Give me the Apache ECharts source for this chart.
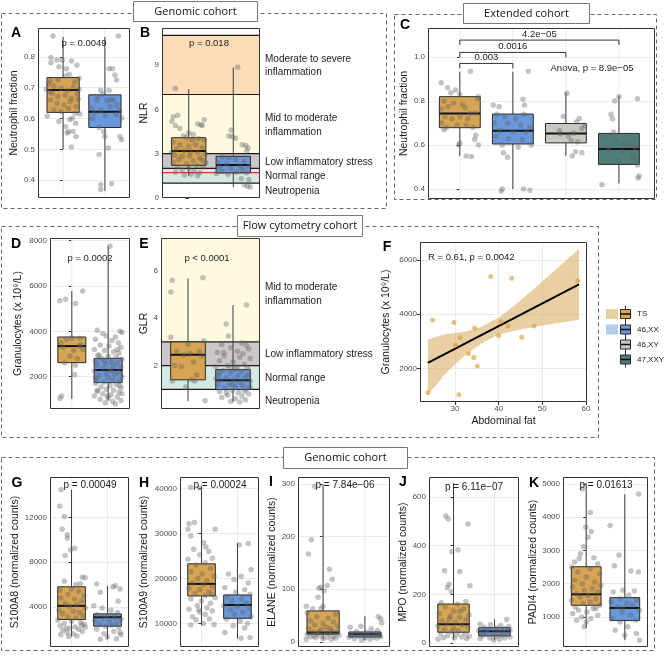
<!DOCTYPE html>
<html><head><meta charset="utf-8">
<script src="https://cdn.jsdelivr.net/npm/echarts@6/dist/echarts.min.js"></script>
<style>html,body{margin:0;padding:0;background:#fff}#c{width:667px;height:656px}</style>
</head><body><div id="c"></div>
<script>
// ================= DATA =================
const GROUPS = ['TS', '46,XX', '46,XY', '47,XXY'];

// Panel A: neutrophil fraction (genomic cohort)
const A_TICKS = [0.4, 0.5, 0.6, 0.7, 0.8];
const A_BOX_TS = [0.50, 0.62, 0.693, 0.733, 0.865];
const A_BOX_XX = [0.365, 0.571, 0.622, 0.677, 0.865];
const A_TS = [[-0.24,0.868],[-0.29,0.798],[-0.29,0.781],[-0.15,0.79],[-0.02,0.79],[0.2,0.787],[0.33,0.773],[-0.1,0.768],[0.08,0.762],[0.38,0.73],[-0.3,0.723],[-0.12,0.725],[0.05,0.738],[0.15,0.744],[-0.4,0.695],[-0.22,0.705],[-0.05,0.698],[0.1,0.692],[0.24,0.701],[0.38,0.695],[-0.26,0.682],[-0.12,0.671],[0.05,0.676],[0.2,0.666],[0.34,0.68],[-0.3,0.66],[-0.15,0.65],[0.02,0.644],[0.17,0.655],[0.31,0.639],[-0.22,0.628],[-0.05,0.623],[0.13,0.633],[0.29,0.617],[-0.1,0.59],[0.4,0.615],[0.22,0.601],[0.3,0.585],[0.06,0.574],[0.13,0.558],[0.1,0.553],[0.24,0.558],[0.31,0.542],[0.2,0.508],[-0.35,0.712],[0.28,0.718],[-0.33,0.687],[0.36,0.663],[-0.38,0.608],[0.16,0.597]];
const A_XX = [[0.32,0.868],[0.1,0.762],[0.18,0.762],[0.24,0.741],[0.28,0.725],[-0.1,0.692],[-0.2,0.66],[0.13,0.662],[0.28,0.644],[0.35,0.628],[0.4,0.601],[0.36,0.542],[0.4,0.531],[-0.14,0.571],[-0.03,0.558],[0.0,0.542],[0.08,0.504],[-0.14,0.483],[-0.1,0.386],[-0.1,0.37],[0.16,0.388],[-0.25,0.617],[-0.1,0.628],[0.12,0.639],[0.27,0.612],[-0.32,0.633],[-0.17,0.671],[0.1,0.692],[0.0,0.61],[-0.3,0.6],[0.05,0.658],[0.2,0.66],[-0.05,0.68]];

// Panel B: NLR
const B_TICKS = [0, 3, 6, 9];
const B_BOX_TS = [1.5, 2.21, 3.18, 4.08, 7.36];
const B_BOX_XX = [0.73, 1.70, 2.24, 2.82, 8.82];
const B_BANDS = [[1, 2], [2, 3], [3, 7], [7, 11]];
const B_LINES = [1, 2, 3, 7, 11];
const B_RED = [1.72];
const B_TS = [[-0.3,7.4],[-0.35,5.5],[-0.25,5.6],[-0.38,5.2],[-0.3,4.9],[0.2,5.0],[0.28,4.95],[0.35,5.3],[0.3,4.9],[0.0,4.4],[0.1,4.3],[-0.2,4.7],[-0.12,4.2],[0.22,4.0],[0.35,3.9],[-0.35,3.8],[-0.2,3.6],[0.0,3.5],[0.15,3.6],[0.3,3.4],[-0.28,3.3],[-0.1,3.2],[0.05,3.15],[0.2,3.1],[0.38,3.0],[-0.32,2.9],[-0.15,2.8],[0.02,2.85],[0.25,2.7],[-0.22,2.6],[0.1,2.5],[0.3,2.55],[-0.35,2.4],[-0.05,2.3],[0.18,2.2],[-0.25,2.1],[0.0,2.0],[0.32,2.1],[-0.15,1.9],[0.12,1.8],[-0.3,1.75],[0.25,1.7],[0.05,1.6],[-0.1,1.55],[0.2,1.5],[0.38,2.4],[-0.38,3.1],[0.08,3.9],[-0.05,4.1]];
const B_XX = [[0.1,8.85],[-0.05,4.6],[-0.1,4.2],[-0.02,4.15],[0.05,4.05],[0.28,3.55],[0.33,3.4],[0.2,3.6],[0.3,3.2],[-0.25,2.8],[-0.1,2.7],[0.05,2.6],[0.25,2.5],[-0.35,2.4],[-0.15,2.3],[0.15,2.2],[0.35,2.15],[-0.3,2.1],[-0.05,2.0],[0.2,1.95],[-0.25,1.8],[0.08,1.75],[0.3,1.7],[-0.12,1.6],[0.18,1.3],[0.35,1.25],[0.25,0.9],[0.32,0.8],[0.38,0.75],[-0.38,1.65]];

// Panel C: neutrophil fraction (extended cohort)
const C_TICKS = [0.4, 0.6, 0.8, 1.0];
const C_BOX_TS = [0.55, 0.679, 0.744, 0.82, 0.933];
const C_BOX_XX = [0.40, 0.605, 0.665, 0.741, 0.933];
const C_BOX_XY = [0.55, 0.61, 0.653, 0.698, 0.84];
const C_BOX_XXY = [0.426, 0.512, 0.582, 0.653, 0.824];
const C_BRACKETS = [[0, 1, 0.971], [0, 2, 1.021], [0, 3, 1.077]];
const C_BRACKET_LABELS = ['0.003', '0.0016', '4.2e\u221205'];
const C_TS = [[-0.35,0.883],[-0.23,0.861],[-0.08,0.85],[-0.17,0.838],[0.0,0.83],[0.35,0.82],[0.34,0.81],[-0.3,0.8],[-0.12,0.79],[0.05,0.785],[-0.22,0.775],[0.1,0.77],[-0.35,0.765],[0.2,0.745],[0.3,0.745],[-0.28,0.73],[0.0,0.73],[-0.15,0.72],[0.15,0.72],[-0.35,0.7],[-0.05,0.69],[0.12,0.69],[-0.25,0.68],[0.25,0.68],[-0.3,0.67],[0.3,0.645],[0.28,0.625],[0.35,0.6],[0.0,0.61],[-0.02,0.6],[0.12,0.55],[0.22,0.548],[0.2,0.935]];
const C_XX = [[-0.37,0.782],[-0.26,0.775],[0.19,0.808],[0.22,0.782],[0.29,0.935],[-0.3,0.74],[-0.15,0.73],[0.05,0.72],[0.2,0.74],[-0.35,0.7],[-0.1,0.7],[0.15,0.69],[0.32,0.68],[-0.25,0.665],[0.0,0.66],[0.25,0.66],[-0.32,0.64],[-0.08,0.63],[0.18,0.625],[0.35,0.6],[-0.2,0.6],[0.1,0.59],[-0.18,0.565],[-0.1,0.545],[0.2,0.4],[0.32,0.395],[-0.22,0.39],[-0.2,0.4]];
const C_XY = [[0.02,0.835],[-0.05,0.73],[0.25,0.72],[0.2,0.705],[0.35,0.69],[0.3,0.675],[0.15,0.655],[-0.1,0.65],[0.05,0.64],[0.22,0.615],[0.1,0.62],[0.18,0.57],[0.3,0.565],[0.12,0.55],[-0.12,0.665]];
const C_XXY = [[-0.1,0.66],[-0.15,0.74],[-0.12,0.72],[-0.08,0.8],[0.0,0.82],[0.35,0.81],[-0.3,0.64],[-0.05,0.62],[0.1,0.61],[0.2,0.6],[0.3,0.59],[-0.2,0.58],[0.05,0.57],[0.25,0.55],[0.32,0.53],[0.35,0.51],[0.38,0.46],[0.36,0.45],[-0.32,0.42],[0.0,0.53]];

// Panel D: granulocytes (flow cytometry)
const D_TICKS = [2000, 4000, 6000, 8000];
const D_BOX_TS = [1015, 2620, 3350, 3750, 5780];
const D_BOX_XX = [953, 1737, 2296, 2810, 7750];
const D_TS = [[-0.33,5350],[-0.17,5420],[0.1,5230],[0.3,5780],[-0.3,3500],[0.0,3700],[-0.15,3650],[0.2,3350],[0.3,3200],[-0.25,3300],[0.05,3150],[-0.05,2900],[0.15,2800],[-0.2,2600],[0.1,2500],[0.08,2100],[-0.28,1150],[-0.33,1050],[0.22,3700],[0.25,3400]];
const D_XX = [[0.05,7750],[-0.3,4050],[-0.15,3900],[0.32,4000],[0.38,3950],[-0.05,3800],[0.2,3750],[-0.35,3650],[0.1,3600],[0.28,3500],[-0.22,3400],[0.02,3350],[0.35,3300],[-0.38,3200],[-0.1,3150],[0.15,3100],[0.3,3050],[-0.28,2950],[0.0,2900],[0.22,2870],[-0.18,2800],[0.38,2780],[-0.35,2700],[0.08,2650],[0.25,2600],[-0.08,2550],[-0.3,2500],[0.15,2450],[0.35,2400],[-0.15,2350],[0.05,2300],[-0.38,2250],[0.28,2200],[-0.05,2150],[0.18,2100],[-0.25,2050],[0.38,2000],[0.0,1950],[-0.32,1900],[0.12,1850],[0.3,1800],[-0.12,1750],[-0.35,1700],[0.22,1650],[0.05,1600],[-0.2,1550],[0.35,1500],[-0.05,1450],[0.15,1400],[-0.3,1350],[0.3,1300],[-0.15,1250],[0.08,1200],[-0.38,1150],[0.25,1100],[0.0,1050],[-0.22,1000],[0.35,950],[0.12,900],[-0.08,850],[0.2,800],[-0.3,1400],[0.38,1250],[-0.1,2700],[0.1,2250],[-0.25,2950],[0.25,3200],[-0.02,1150],[0.32,1600],[-0.35,1950]];

// Panel E: GLR
const E_TICKS = [2, 4, 6];
const E_BOX_TS = [0.51, 1.4, 2.46, 3.0, 5.67];
const E_BOX_XX = [0.47, 0.99, 1.38, 1.83, 4.55];
const E_BANDS = [[1, 2], [2, 3], [3, 8]];
const E_LINES = [1, 2, 3];
const E_TS = [[-0.38,3.2],[-0.35,5.6],[-0.38,5.1],[0.33,5.7],[-0.25,2.6],[-0.1,2.45],[0.05,2.5],[0.3,2.4],[0.35,3.05],[-0.3,2.0],[0.12,2.15],[0.0,2.9],[-0.15,1.95],[0.2,1.6],[-0.35,1.35],[0.08,1.4],[0.15,1.35],[-0.05,1.1],[0.38,0.52],[0.25,2.6]];
const E_XX = [[0.3,4.55],[-0.15,3.75],[-0.1,3.25],[-0.25,2.9],[0.2,2.95],[0.3,2.85],[0.35,2.7],[-0.35,2.55],[-0.05,2.75],[0.1,2.6],[-0.2,2.4],[0.15,2.35],[0.38,2.3],[-0.3,2.2],[0.0,2.15],[0.25,2.05],[-0.12,2.0],[-0.38,1.95],[0.32,1.9],[0.05,1.85],[-0.22,1.8],[0.18,1.75],[-0.05,1.7],[0.35,1.65],[-0.32,1.6],[0.1,1.55],[-0.15,1.5],[0.25,1.45],[0.0,1.4],[-0.28,1.38],[0.38,1.35],[0.15,1.3],[-0.08,1.25],[-0.35,1.2],[0.22,1.15],[0.05,1.1],[-0.18,1.05],[0.3,1.0],[-0.02,0.95],[-0.3,0.9],[0.12,0.85],[0.35,0.8],[-0.12,0.75],[0.2,0.7],[-0.25,0.65],[0.05,0.6],[0.28,0.55],[-0.05,0.5],[0.15,0.47],[-0.38,1.45],[0.38,1.1],[-0.2,2.55],[0.22,2.5],[-0.08,1.9],[0.1,1.95],[0.3,1.55],[-0.3,1.7],[0.0,1.2],[-0.15,0.85],[0.25,0.9]];

// Panel F: granulocytes vs abdominal fat (TS)
const F_XTICKS = [30, 40, 50, 60];
const F_YTICKS = [2000, 4000, 6000];
const F_PTS = [[23.8,1100],[24.9,3780],[29.8,3690],[30.1,2850],[31.2,3130],[30.9,1020],[33.1,2540],[34.3,2400],[34.5,3490],[35.1,2090],[38.2,5390],[40.0,3200],[40.6,3720],[42.2,3560],[43.0,5330],[45.3,3150],[48.1,3560],[58.1,5230]];
const F_FIT = [[23.8, 2200], [58.4, 5100]];
const F_CI = [[23.8,1020,3070],[28,1830,3270],[32,2440,3340],[36,2910,3530],[40,3250,3880],[44,3400,4370],[48,3530,4930],[52,3630,5490],[56,3730,6070],[58.4,3790,6410]];

// Panels G-K: normalized counts (genomic cohort)
const G_TICKS = [4000, 8000, 12000];
const G_BOX_TS = [1350, 2870, 4090, 5798, 14490];
const G_BOX_XX = [1100, 2270, 3070, 3370, 5900];
const G_TS = [[-0.29,14490],[-0.33,13000],[-0.2,12100],[-0.26,10950],[-0.12,10450],[-0.12,10150],[-0.03,9100],[0.09,9250],[-0.18,8600],[0.3,6650],[0.38,6600],[0.25,6100],[-0.2,6300],[0.12,6000],[-0.32,5500],[0.0,5600],[0.2,5400],[-0.1,5100],[0.35,5000],[-0.3,4800],[0.08,4700],[0.28,4500],[-0.18,4300],[0.15,4200],[-0.05,4050],[0.38,3900],[-0.35,3700],[0.05,3600],[0.22,3500],[-0.25,3400],[0.32,3200],[-0.1,3100],[0.12,3000],[-0.38,2800],[0.0,2700],[0.25,2600],[-0.2,2500],[0.35,2450],[-0.32,2300],[0.1,2200],[-0.05,2100],[0.2,2000],[-0.25,1900],[0.3,1800],[-0.12,1700],[0.05,1600],[-0.3,1500],[0.15,1400],[-0.08,1350],[0.38,2200],[0.28,2350],[-0.15,2050]];
const G_XX = [[-0.3,6050],[0.15,5800],[0.22,5900],[0.35,5600],[-0.2,5300],[0.3,4500],[-0.38,4100],[-0.15,3900],[0.1,3700],[0.28,3500],[-0.28,3300],[0.0,3200],[0.2,3100],[-0.12,3000],[0.38,2900],[-0.35,2750],[0.05,2700],[0.25,2550],[-0.22,2450],[0.12,2350],[-0.05,2250],[0.32,2150],[-0.3,2000],[0.18,1800],[-0.1,1600],[0.38,1500],[0.0,1300],[0.25,1150],[-0.2,1100],[0.35,1700]];

const H_TICKS = [10000, 20000, 30000, 40000];
const H_BOX_TS = [9630, 16140, 18820, 23280, 40570];
const H_BOX_XX = [6650, 11160, 14130, 16360, 27840];
const H_TS = [[-0.3,40300],[-0.05,40100],[-0.35,32200],[-0.2,32500],[-0.38,31000],[-0.3,29500],[0.05,28000],[0.38,31000],[-0.22,26500],[0.2,26000],[-0.05,25300],[0.3,24500],[-0.38,24300],[0.1,23500],[-0.15,23000],[0.25,22300],[-0.3,21500],[0.02,21000],[0.35,20500],[-0.1,20000],[0.15,19500],[-0.25,19000],[0.05,18700],[0.3,18200],[-0.35,17800],[-0.05,17500],[0.2,17000],[-0.18,16600],[0.1,16200],[0.38,15800],[-0.3,15500],[0.0,15000],[0.25,14500],[-0.12,14000],[0.15,13500],[-0.35,13200],[0.3,12800],[-0.05,12500],[0.1,12000],[-0.25,11500],[0.22,11000],[-0.15,10800],[0.05,10000],[0.35,9800],[-0.3,9650],[0.12,27000],[-0.08,13000],[0.28,16500]];
const H_XX = [[0.3,27800],[0.05,27500],[0.38,22000],[-0.25,21000],[0.1,20500],[-0.1,19800],[0.3,19000],[-0.35,18000],[0.2,17500],[-0.05,17000],[0.35,16500],[-0.28,16000],[0.12,15500],[-0.15,15000],[0.25,14500],[-0.38,14000],[0.0,13800],[0.32,13500],[-0.2,13000],[0.15,12500],[-0.08,12000],[0.38,11500],[-0.3,11000],[0.08,10500],[0.28,10000],[-0.12,9500],[0.2,9000],[-0.35,8000],[0.1,6700],[0.35,6900]];

const I_TICKS = [0, 100, 200, 300];
const I_BOX_TS = [5, 14.7, 18, 59, 298];
const I_BOX_XX = [3, 9.5, 14.7, 19, 49];
const I_TS = [[-0.2,295],[-0.28,194],[-0.35,167],[0.15,138],[0.22,119],[0.1,107],[-0.05,104],[-0.1,102],[0.02,97],[-0.12,85],[0.0,68],[-0.4,68],[-0.25,63],[-0.05,63],[-0.38,55],[0.3,52],[-0.15,48],[0.12,45],[-0.3,40],[0.25,38],[0.0,35],[-0.2,32],[0.35,30],[0.08,28],[-0.35,25],[-0.05,23],[0.2,21],[-0.25,19],[0.32,18],[0.05,17],[-0.15,16],[0.15,15],[-0.38,14],[0.38,13],[-0.08,12],[0.25,11],[-0.3,10],[0.1,9],[-0.18,8],[0.3,7],[0.0,6],[-0.4,5],[0.2,5],[-0.1,20],[0.18,25],[-0.22,12]];
const I_XX = [[0.32,48],[0.38,44],[0.4,36],[-0.35,28],[-0.1,30],[0.15,25],[0.3,22],[-0.2,20],[0.05,18],[0.25,16],[-0.3,15],[-0.05,14],[0.35,13],[0.1,12],[-0.15,11],[0.2,10],[-0.38,9],[0.0,8],[0.28,7],[-0.25,6],[0.12,5],[-0.08,4],[0.38,10],[-0.32,12]];

const J_TICKS = [0, 200, 400, 600];
const J_BOX_TS = [14, 44, 77, 160, 656];
const J_BOX_XX = [11, 29, 48, 63, 97];
const J_TS = [[-0.19,522],[-0.13,509],[0.35,489],[-0.04,375],[0.11,382],[-0.22,297],[0.15,294],[0.4,235],[-0.11,241],[-0.15,228],[-0.05,210],[0.3,170],[-0.3,165],[0.1,160],[-0.2,150],[0.25,140],[0.0,130],[-0.35,120],[0.38,115],[0.15,105],[-0.1,100],[0.3,95],[-0.28,90],[0.05,85],[-0.15,80],[0.2,75],[-0.38,70],[0.35,65],[0.0,60],[-0.22,55],[0.12,50],[-0.05,45],[0.28,40],[-0.32,38],[0.08,35],[-0.15,30],[0.38,28],[0.2,25],[-0.25,22],[0.02,20],[0.32,18],[-0.38,15],[0.15,130],[-0.08,110]];
const J_XX = [[0.3,97],[-0.35,78],[-0.1,75],[0.15,72],[0.35,68],[-0.25,65],[0.05,62],[0.25,58],[-0.15,55],[0.38,52],[-0.38,50],[0.0,48],[0.2,46],[-0.2,44],[0.1,42],[-0.3,40],[0.3,38],[-0.05,35],[0.18,32],[-0.28,30],[0.05,28],[0.38,25],[-0.12,22],[0.25,20],[-0.35,18],[0.12,15],[-0.02,12]];

const K_TICKS = [1000, 2000, 3000, 4000, 5000];
const K_BOX_TS = [670, 1350, 1680, 2510, 5030];
const K_BOX_XX = [300, 890, 1270, 1580, 4690];
const K_TS = [[-0.1,4850],[0.11,4140],[-0.01,3700],[0.13,3570],[0.05,3400],[-0.07,3110],[-0.15,2900],[0.2,2780],[-0.18,2760],[-0.3,2650],[0.3,2600],[-0.38,2500],[0.1,2450],[-0.22,2350],[0.35,2300],[0.0,2200],[-0.3,2100],[0.22,2050],[-0.1,2000],[0.38,1950],[-0.35,1900],[0.15,1850],[-0.05,1800],[0.3,1750],[-0.25,1700],[0.05,1650],[-0.15,1600],[0.25,1550],[-0.38,1500],[0.1,1450],[-0.08,1400],[0.35,1350],[-0.28,1300],[0.18,1250],[-0.2,1200],[0.02,1150],[-0.35,1100],[0.3,1050],[-0.12,1000],[0.12,950],[-0.25,900],[0.0,850],[-0.05,700],[0.25,1250]];
const K_XX = [[0.36,4700],[-0.38,3750],[-0.15,2860],[-0.27,2540],[0.16,2380],[0.35,2350],[-0.05,1800],[0.25,1780],[-0.3,1750],[0.1,1650],[-0.12,1550],[0.3,1500],[-0.35,1450],[0.05,1400],[0.2,1350],[-0.2,1300],[0.38,1200],[-0.08,1150],[0.15,1050],[-0.32,950],[0.28,900],[-0.12,850],[0.08,700],[-0.25,600],[0.3,500],[0.0,450],[0.38,300],[-0.05,1250]];

// ================= STYLE / LAYOUT =================
const FONT = '"Liberation Sans", Arial, sans-serif';
const FILL = {TS: '#D6A452', XX: '#6A98DC', XY: '#C8C9C3', XXY: '#4F7D7A'};
const PT_COLOR = 'rgba(100,100,100,0.48)';
const GRID_COLOR = '#EBEBEB';
const BAND_FILL = {green: '#D4EAE1', gray: '#CCC7C7', yellow: '#FEFAE0', orange: '#FCDBB8'};

const PANELS = [
  {rect:[38,28,92,170], cx:[-0.6,1.6], yr:[0.342,0.894], ticks:A_TICKS, dec:1, title:'Neutrophil fraction', gap:18,
   boxes:[A_BOX_TS,A_BOX_XX], pts:[A_TS,A_XX], fills:[FILL.TS,FILL.XX], vgrid:true},
  {rect:[162,28,98,170], cx:[-0.6,1.6], yr:[0,11.5], ticks:B_TICKS, title:'NLR', gap:12,
   boxes:[B_BOX_TS,B_BOX_XX], pts:[B_TS,B_XX], fills:[FILL.TS,FILL.XX], vgrid:false,
   bands:B_BANDS, bandFills:[BAND_FILL.green,BAND_FILL.gray,BAND_FILL.yellow,BAND_FILL.orange], lines:B_LINES, red:B_RED},
  {rect:[428,28,227,171], cx:[-0.6,3.68], yr:[0.355,1.132], ticks:C_TICKS, dec:1, title:'Neutrophil fraction', gap:18,
   boxes:[C_BOX_TS,C_BOX_XX,C_BOX_XY,C_BOX_XXY], pts:[C_TS,C_XX,C_XY,C_XXY], fills:[FILL.TS,FILL.XX,FILL.XY,FILL.XXY], vgrid:true, brackets:true},
  {rect:[50,238,80,171], cx:[-0.6,1.6], yr:[574,8119], ticks:D_TICKS, title:'Granulocytes (x 10\u2079/L)', gap:26,
   boxes:[D_BOX_TS,D_BOX_XX], pts:[D_TS,D_XX], fills:[FILL.TS,FILL.XX], vgrid:true},
  {rect:[161,238,99,171], cx:[-0.6,1.6], yr:[0.17,7.38], ticks:E_TICKS, title:'GLR', gap:11,
   boxes:[E_BOX_TS,E_BOX_XX], pts:[E_TS,E_XX], fills:[FILL.TS,FILL.XX], vgrid:false,
   bands:E_BANDS, bandFills:[BAND_FILL.green,BAND_FILL.gray,BAND_FILL.yellow], lines:E_LINES},
  {rect:[420,242,167,160], xr:[22.0,60.23], xticks:F_XTICKS, xTitle:'Abdominal fat', xGap:14, yr:[756,6665], ticks:F_YTICKS,
   title:'Granulocytes (x 10\u2079/L)', gap:28, scatterF:true},
  {rect:[50,477,79,170], cx:[-0.6,1.6], yr:[404,15630], ticks:G_TICKS, title:'S100A8 (normalized counts)', gap:29,
   boxes:[G_BOX_TS,G_BOX_XX], pts:[G_TS,G_XX], fills:[FILL.TS,FILL.XX], vgrid:true},
  {rect:[180,477,79,170], cx:[-0.6,1.6], yr:[4780,42600], ticks:H_TICKS, title:'S100A9 (normalized counts)', gap:30,
   boxes:[H_BOX_TS,H_BOX_XX], pts:[H_TS,H_XX], fills:[FILL.TS,FILL.XX], vgrid:true},
  {rect:[298,477,92,170], cx:[-0.6,1.6], yr:[-9.5,313], ticks:I_TICKS, title:'ELANE (normalized counts)', gap:17,
   boxes:[I_BOX_TS,I_BOX_XX], pts:[I_TS,I_XX], fills:[FILL.TS,FILL.XX], vgrid:true},
  {rect:[429,477,90,170], cx:[-0.6,1.6], yr:[-16.5,682], ticks:J_TICKS, title:'MPO (normalized counts)', gap:16,
   boxes:[J_BOX_TS,J_BOX_XX], pts:[J_TS,J_XX], fills:[FILL.TS,FILL.XX], vgrid:true},
  {rect:[563,477,85,170], cx:[-0.6,1.6], yr:[94,5211], ticks:K_TICKS, title:'PADI4 (normalized counts)', gap:24,
   boxes:[K_BOX_TS,K_BOX_XX], pts:[K_TS,K_XX], fills:[FILL.TS,FILL.XX], vgrid:true}
];

const grid = [], xAxis = [], yAxis = [], series = [], graphic = [];
const tickLabel = {fontFamily: FONT, fontSize: 8, color: '#4D4D4D', margin: 3};
const nameStyle = {fontFamily: FONT, fontSize: 10.5, color: '#1A1A1A'};

function boxRenderer(fills, vgrid) {
  return function (params, api) {
    const c = api.value(0);
    const unit = api.size([1, 0])[0];
    const bw = unit * 0.77;
    const p = [1, 2, 3, 4, 5].map(i => api.coord([c, api.value(i)]));
    const cx = p[0][0];
    const cs = params.coordSys;
    const ch = [];
    if (vgrid) ch.push({type: 'line', shape: {x1: cx, y1: cs.y, x2: cx, y2: cs.y + cs.height}, style: {stroke: GRID_COLOR, lineWidth: 1}});
    ch.push({type: 'line', shape: {x1: cx, y1: p[0][1], x2: cx, y2: p[1][1]}, style: {stroke: '#3a3a3a', lineWidth: 1}});
    ch.push({type: 'line', shape: {x1: cx, y1: p[3][1], x2: cx, y2: p[4][1]}, style: {stroke: '#3a3a3a', lineWidth: 1}});
    ch.push({type: 'rect', shape: {x: cx - bw / 2, y: p[3][1], width: bw, height: p[1][1] - p[3][1]},
             style: {fill: fills[params.dataIndex], stroke: '#2a2a2a', lineWidth: 1}});
    ch.push({type: 'line', shape: {x1: cx - bw / 2, y1: p[2][1], x2: cx + bw / 2, y2: p[2][1]}, style: {stroke: '#111', lineWidth: 2}});
    return {type: 'group', children: ch};
  };
}

PANELS.forEach((p, gi) => {
  const [l, t, w, h] = p.rect;
  grid.push({left: l, top: t, width: w, height: h, show: false});
  if (p.xr) {
    xAxis.push({gridIndex: gi, type: 'value', min: p.xr[0], max: p.xr[1],
      name: p.xTitle, nameLocation: 'middle', nameGap: p.xGap, nameTextStyle: nameStyle,
      axisLine: {show: false},
      axisTick: {show: true, length: 3, lineStyle: {color: '#333'}, customValues: p.xticks},
      axisLabel: Object.assign({customValues: p.xticks}, tickLabel),
      splitLine: {show: true, lineStyle: {color: GRID_COLOR, width: 1}}});
  } else {
    xAxis.push({gridIndex: gi, type: 'value', min: p.cx[0], max: p.cx[1], show: false});
  }
  yAxis.push({gridIndex: gi, type: 'value', min: p.yr[0], max: p.yr[1],
    name: p.title, nameLocation: 'middle', nameRotate: 90, nameGap: p.gap, nameTextStyle: nameStyle,
    axisLine: {show: false},
    axisTick: {show: true, length: 3, lineStyle: {color: '#333'}, customValues: p.ticks},
    axisLabel: Object.assign({customValues: p.ticks, formatter: v => p.dec ? Number(v).toFixed(p.dec) : String(v)}, tickLabel),
    splitLine: {show: !p.bands, lineStyle: {color: GRID_COLOR, width: 1}}});

  if (p.bands) {
    const fills = p.bandFills;
    series.push({type: 'custom', xAxisIndex: gi, yAxisIndex: gi, z: 1, silent: true,
      data: p.bands, encode: {y: [0, 1]},
      renderItem: (params, api) => {
        const cs = params.coordSys;
        const y1 = Math.min(api.coord([0, api.value(0)])[1], cs.y + cs.height);
        const y2 = Math.max(api.coord([0, api.value(1)])[1], cs.y);
        return {type: 'rect', shape: {x: cs.x, y: y2, width: cs.width, height: y1 - y2}, style: {fill: fills[params.dataIndex]}};
      }});
    const lineSeries = (vals, color, z) => ({type: 'custom', xAxisIndex: gi, yAxisIndex: gi, z: z, silent: true,
      data: vals.map(v => [v]), encode: {y: 0},
      renderItem: (params, api) => {
        const cs = params.coordSys;
        const y = api.coord([0, api.value(0)])[1];
        return {type: 'line', shape: {x1: cs.x, y1: y, x2: cs.x + cs.width, y2: y}, style: {stroke: color, lineWidth: 1.2}};
      }});
    series.push(lineSeries(p.lines, '#1a1a1a', 2));
    if (p.red) series.push(lineSeries(p.red, '#E0322C', 2));
  }

  if (p.boxes) {
    series.push({type: 'custom', xAxisIndex: gi, yAxisIndex: gi, z: 3, silent: true,
      data: p.boxes.map((b, i) => [i].concat(b)), encode: {x: 0, y: [1, 2, 3, 4, 5]},
      renderItem: boxRenderer(p.fills, p.vgrid)});
    p.pts.forEach((arr, i) => {
      series.push({type: 'scatter', xAxisIndex: gi, yAxisIndex: gi, z: 4, silent: true,
        symbolSize: 5.5, itemStyle: {color: PT_COLOR},
        data: arr.map(d => [i + d[0], d[1]])});
    });
  }

  if (p.brackets) {
    series.push({type: 'custom', xAxisIndex: gi, yAxisIndex: gi, z: 5, silent: true,
      data: C_BRACKETS, encode: {x: [0, 1], y: 2},
      renderItem: (params, api) => {
        const a = api.coord([api.value(0), api.value(2)]);
        const b = api.coord([api.value(1), api.value(2)]);
        return {type: 'group', children: [
          {type: 'polyline', shape: {points: [[a[0], a[1] + 5], [a[0], a[1]], [b[0], b[1]], [b[0], b[1] + 5]]},
           style: {stroke: '#333', lineWidth: 1, fill: null}},
          {type: 'text', x: (a[0] + b[0]) / 2, y: a[1] - 1,
           style: {text: C_BRACKET_LABELS[params.dataIndex], fontFamily: FONT, fontSize: 9.5, fill: '#1a1a1a', align: 'center', verticalAlign: 'bottom'}}
        ]};
      }});
  }

  if (p.scatterF) {
    series.push({type: 'custom', xAxisIndex: gi, yAxisIndex: gi, z: 2, silent: true,
      data: F_CI, encode: {x: 0, y: [1, 2]},
      renderItem: (params, api) => {
        if (params.dataIndex !== 0) return null;
        const upper = F_CI.map(r => api.coord([r[0], r[2]]));
        const lower = F_CI.map(r => api.coord([r[0], r[1]])).reverse();
        return {type: 'polygon', shape: {points: upper.concat(lower)}, style: {fill: 'rgba(214,170,90,0.55)'}};
      }});
    series.push({type: 'line', xAxisIndex: gi, yAxisIndex: gi, z: 3, silent: true, symbol: 'none',
      lineStyle: {color: '#000', width: 2}, data: F_FIT});
    series.push({type: 'scatter', xAxisIndex: gi, yAxisIndex: gi, z: 4, silent: true,
      symbolSize: 5, itemStyle: {color: 'rgba(214,160,60,0.8)'}, data: F_PTS});
  }

  // panel border
  graphic.push({type: 'rect', z: 100, silent: true, shape: {x: l + 0.5, y: t + 0.5, width: w - 1, height: h - 1},
    style: {fill: null, stroke: '#333', lineWidth: 1}});
});

// dashed cohort boxes
const DASH = [[1.5,13.5,385,195],[394.5,14.5,262,185],[1.5,226.5,597,211],[1.5,457.5,653,193]];
DASH.forEach(r => graphic.push({type: 'rect', z: 90, silent: true, shape: {x: r[0], y: r[1], width: r[2], height: r[3]},
  style: {fill: null, stroke: '#666', lineWidth: 1, lineDash: [4, 3]}}));

// cohort label boxes
const LABELS = [['Genomic cohort',133.5,1.5,124,20],['Extended cohort',463.5,3.5,126,20],['Flow cytometry cohort',237.5,215.5,125,21],['Genomic cohort',283.5,447.5,124,21]];
LABELS.forEach(r => {
  graphic.push({type: 'rect', z: 95, silent: true, shape: {x: r[1], y: r[2], width: r[3], height: r[4]},
    style: {fill: '#fff', stroke: '#777', lineWidth: 1}});
  graphic.push({type: 'text', z: 96, silent: true, x: r[1] + r[3] / 2, y: r[2] + r[4] / 2,
    style: {text: r[0], fontFamily: '"Open Sans", sans-serif', fontSize: 11, fill: '#111', align: 'center', verticalAlign: 'middle'}});
});

// panel letters
const LETTERS = [['A',16,33],['B',145,33],['C',405,25],['D',16,244],['E',144,244],['F',387,247],['G',17,483],['H',144,483],['I',271,482],['J',403,482],['K',534,483]];
LETTERS.forEach(r => graphic.push({type: 'text', z: 96, silent: true, x: r[1], y: r[2],
  style: {text: r[0], fontFamily: FONT, fontSize: 14, fontWeight: 'bold', fill: '#000', align: 'center', verticalAlign: 'middle'}}));

// annotations
const ANNOT = [
  ['p = 0.0049',84,43,9.5,'center'],['p = 0.018',209,43,9.5,'center'],['Anova, p = 8.9e\u221205',592,68,9.5,'center'],
  ['p = 0.0002',90,258,9.5,'center'],['p < 0.0001',207,258,9.5,'center'],['R = 0.61, p = 0.0042',428,257,9.5,'left'],
  ['p = 0.00049',90,485,10,'center'],['p = 0.00024',220,485,10,'center'],['p = 7.84e\u221206',345,485,10,'center'],
  ['p = 6.11e\u221207',474,487,10,'center'],['p = 0.01613',606,485,10,'center']
];
ANNOT.forEach(r => graphic.push({type: 'text', z: 97, silent: true, x: r[1], y: r[2],
  style: {text: r[0], fontFamily: FONT, fontSize: r[3], fill: '#1a1a1a', align: r[4], verticalAlign: 'middle'}}));

// zone labels
const ZONES = [
  ['Moderate to severe',59],['inflammation',72],['Mid to moderate',118],['inflammation',132],
  ['Low inflammatory stress',162],['Normal range',176],['Neutropenia',191],
  ['Mid to moderate',287],['inflammation',301],['Low inflammatory stress',354],['Normal range',378],['Neutropenia',401]
];
ZONES.forEach(r => graphic.push({type: 'text', z: 97, silent: true, x: 265, y: r[1],
  style: {text: r[0], fontFamily: FONT, fontSize: 10, fill: '#1a1a1a', align: 'left', verticalAlign: 'middle'}}));

// legend
const LEG_ROWS = [314, 329.5, 344.5, 359.5];
const LEG_FILLS = [FILL.TS, FILL.XX, FILL.XY, FILL.XXY];
const LEG_RIBBON = ['#E7CF9F', '#B5CDEC', null, null];
GROUPS.forEach((g, i) => {
  const y = LEG_ROWS[i];
  if (LEG_RIBBON[i]) graphic.push({type: 'rect', z: 98, silent: true, shape: {x: 606, y: y - 5, width: 12, height: 10}, style: {fill: LEG_RIBBON[i]}});
  graphic.push({type: 'line', z: 98, silent: true, shape: {x1: 625.5, y1: y - 8, x2: 625.5, y2: y + 8}, style: {stroke: '#333', lineWidth: 1}});
  graphic.push({type: 'rect', z: 99, silent: true, shape: {x: 620.5, y: y - 4.5, width: 10, height: 9}, style: {fill: LEG_FILLS[i], stroke: '#2a2a2a', lineWidth: 1}});
  graphic.push({type: 'line', z: 99, silent: true, shape: {x1: 620.5, y1: y, x2: 630.5, y2: y}, style: {stroke: '#111', lineWidth: 1.5}});
  graphic.push({type: 'text', z: 99, silent: true, x: 637, y: y,
    style: {text: g, fontFamily: FONT, fontSize: 8, fill: '#1a1a1a', align: 'left', verticalAlign: 'middle'}});
});

const chart = echarts.init(document.getElementById('c'), null, {renderer: 'canvas'});
chart.setOption({backgroundColor: '#fff', animation: false, grid, xAxis, yAxis, series, graphic});
</script></body></html>
